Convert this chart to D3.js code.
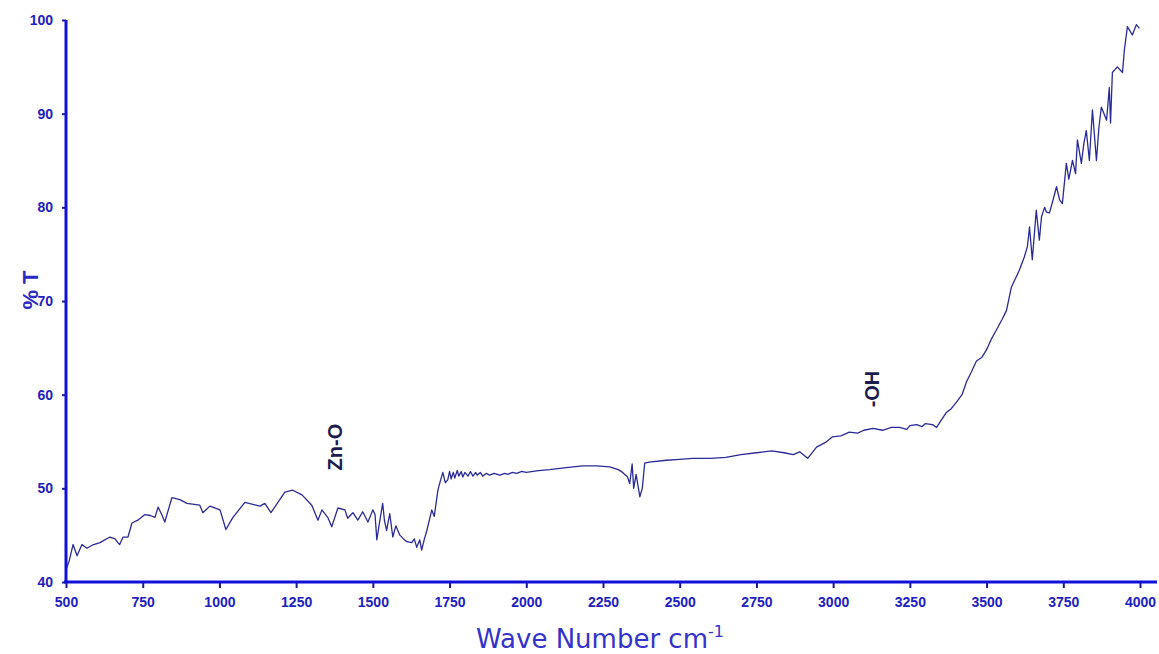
<!DOCTYPE html>
<html>
<head>
<meta charset="utf-8">
<script src="https://cdn.jsdelivr.net/npm/d3@7"></script>
<style>
  body { margin: 0; background: #fff; }
  svg text { font-family: Arial, "Liberation Sans", sans-serif; }
</style>
</head>
<body>
<svg id="chart" width="1159" height="654"></svg>
<script>
// spectrum: wave number (cm-1) and % transmittance
var waveNumber = [500,510,523,536,552,568,590,611,643,660,669,675,686,702,715,734,757,775,790,800,812,822,845,871,894,936,946,969,1002,1021,1044,1083,1132,1148,1168,1213,1239,1269,1301,1321,1334,1353,1366,1386,1409,1418,1435,1451,1467,1484,1500,1507,1513,1520,1532,1538,1545,1555,1565,1575,1588,1600,1611,1627,1635,1643,1653,1659,1668,1676,1692,1700,1712,1720,1728,1736,1744,1750,1755,1762,1767,1775,1780,1788,1793,1800,1810,1818,1826,1835,1840,1850,1858,1870,1880,1895,1914,1930,1940,1955,1969,1985,2000,2040,2076,2130,2184,2230,2272,2300,2314,2330,2337,2345,2350,2358,2370,2378,2386,2400,2457,2500,2542,2600,2650,2700,2750,2800,2840,2870,2891,2917,2946,2975,2998,3025,3053,3080,3100,3130,3161,3190,3216,3240,3250,3272,3290,3300,3324,3337,3369,3385,3402,3420,3435,3450,3467,3485,3500,3515,3532,3550,3565,3581,3600,3607,3623,3633,3640,3649,3662,3672,3679,3689,3695,3705,3715,3728,3738,3747,3760,3768,3780,3790,3796,3809,3817,3825,3835,3845,3858,3866,3874,3891,3900,3904,3910,3926,3943,3949,3959,3975,3988,3998];
var transmittance = [41.3,42.2,44.0,42.8,44.0,43.6,44.0,44.2,44.8,44.6,44.2,44.0,44.8,44.8,46.3,46.6,47.2,47.1,46.9,48.0,47.2,46.4,49.0,48.8,48.4,48.2,47.4,48.1,47.7,45.6,46.9,48.5,48.1,48.4,47.4,49.6,49.8,49.3,48.2,46.6,47.7,46.9,45.9,47.9,47.7,46.8,47.4,46.6,47.5,46.4,47.7,47.2,44.5,46.0,48.4,46.5,45.5,47.3,44.8,46.0,45.0,44.6,44.3,44.2,44.6,43.7,44.5,43.4,44.6,45.5,47.7,47.0,49.8,50.8,51.7,50.6,50.9,51.8,51.0,51.7,51.1,51.9,51.3,51.8,51.2,51.7,51.3,51.8,51.3,51.7,51.4,51.7,51.3,51.6,51.4,51.6,51.4,51.6,51.5,51.7,51.6,51.8,51.7,51.9,52.0,52.2,52.4,52.4,52.3,52.0,51.7,51.2,50.5,52.6,50.0,51.5,49.1,50.0,52.7,52.8,53.0,53.1,53.2,53.2,53.3,53.6,53.8,54.0,53.8,53.6,53.9,53.2,54.4,54.9,55.5,55.6,56.0,55.9,56.2,56.4,56.2,56.5,56.5,56.3,56.7,56.8,56.6,56.9,56.8,56.5,58.1,58.5,59.2,60.0,61.4,62.4,63.6,64.0,64.8,65.9,66.9,68.0,69.0,71.5,72.8,73.3,74.7,75.8,77.9,74.4,79.7,76.5,79.0,80.0,79.5,79.4,80.6,82.2,80.8,80.4,84.7,83.0,85.0,83.6,87.2,84.7,86.8,88.2,85.0,90.4,85.0,88.5,90.7,89.3,92.8,89.0,94.4,95.0,94.4,96.8,99.3,98.4,99.5,99.1];

var xTicks = [500,750,1000,1250,1500,1750,2000,2250,2500,2750,3000,3250,3500,3750,4000];
var yTicks = [40,50,60,70,80,90,100];

var peakLabels = ["Zn-O", "-OH"];
var peakWave = [1375, 3125];
var peakLevel = [54.4, 60.6];

var svg = d3.select("#chart");
var axisColor = "#1010d8";
var textColor = "#2020c0";

var x = d3.scaleLinear().domain([500, 4000]).range([66, 1140]);
var y = d3.scaleLinear().domain([40, 100]).range([582, 20]);

// spectrum line
var line = d3.line()
    .x(function(d){ return x(d[0]); })
    .y(function(d){ return y(d[1]); });

var pts = waveNumber.map(function(w, i){ return [w, transmittance[i]]; });

svg.append("path")
    .datum(pts)
    .attr("d", line)
    .attr("fill", "none")
    .attr("stroke", "#2a2a96")
    .attr("stroke-width", 1.3)
    .attr("stroke-linejoin", "round");

// x axis
var xAxis = svg.append("g").attr("transform", "translate(0,582)")
    .call(d3.axisBottom(x).tickValues(xTicks).tickFormat(d3.format("d")).tickSize(6).tickSizeOuter(0).tickPadding(9));
xAxis.select(".domain").remove();
xAxis.append("line").attr("x1", 64).attr("x2", 1157).attr("y1", 0).attr("y2", 0)
    .attr("stroke", axisColor).attr("stroke-width", 3);
xAxis.selectAll(".tick line").attr("stroke", "#1a1a90").attr("stroke-width", 2);
xAxis.selectAll(".tick text")
    .attr("fill", textColor).attr("font-size", 14).attr("font-weight", "bold");

// y axis
var yAxis = svg.append("g").attr("transform", "translate(66,0)")
    .call(d3.axisLeft(y).tickValues(yTicks).tickFormat(d3.format("d")).tickSize(4).tickSizeOuter(0).tickPadding(9));
yAxis.select(".domain").remove();
yAxis.append("line").attr("x1", 0).attr("x2", 0).attr("y1", 20).attr("y2", 583)
    .attr("stroke", axisColor).attr("stroke-width", 3);
yAxis.selectAll(".tick line").attr("stroke", "#1a1a90").attr("stroke-width", 2);
yAxis.selectAll(".tick text")
    .attr("fill", textColor).attr("font-size", 14).attr("font-weight", "bold");

// axis titles
var xt = svg.append("text")
    .attr("x", 600).attr("y", 648)
    .attr("text-anchor", "middle")
    .attr("fill", "#3333cc")
    .style("font-family", "'DejaVu Sans', Verdana, sans-serif")
    .attr("font-size", 26);
xt.append("tspan").text("Wave Number cm");
xt.append("tspan").attr("dy", -11).attr("font-size", 16).text("-1");

svg.append("text")
    .attr("transform", "translate(38,290) rotate(-90)")
    .attr("text-anchor", "middle")
    .attr("fill", "#2a2ac0")
    .attr("font-size", 22)
    .attr("font-weight", "bold")
    .text("% T");

// band annotations
peakLabels.forEach(function(t, i){
  svg.append("text")
    .attr("transform", "translate(" + (x(peakWave[i]) + 7) + "," + y(peakLevel[i]) + ") rotate(-90)")
    .attr("text-anchor", "middle")
    .attr("fill", "#1c1c50")
    .attr("font-size", 20)
    .attr("font-weight", "bold")
    .text(t);
});
</script>
</body>
</html>
